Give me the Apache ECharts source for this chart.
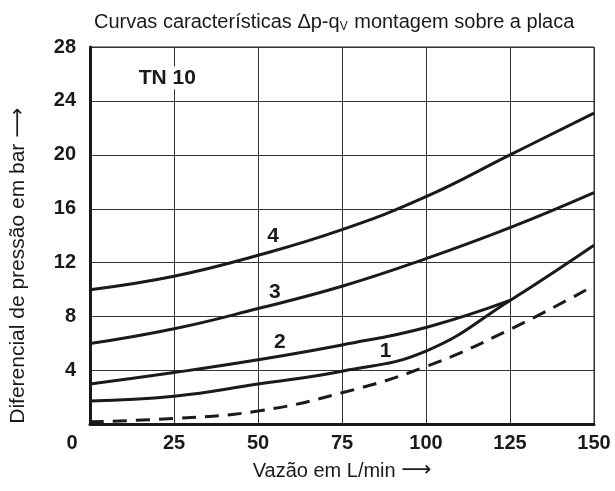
<!DOCTYPE html>
<html>
<head>
<meta charset="utf-8">
<script src="https://cdn.jsdelivr.net/npm/echarts@6/dist/echarts.min.js"></script>
<style>
html,body{margin:0;padding:0;background:#fff;}
#c{width:615px;height:491px;}
</style>
</head>
<body>
<div id="c"></div>
<script>
// ---- data ----
var xTicks = [0, 25, 50, 75, 100, 125, 150];
var yTicks = [0, 4, 8, 12, 16, 20, 24, 28];
var curve4 = [[0,10],[25,11],[50,12.55],[75,14.45],[100,16.9],[125,20],[150,23.1]];
var curve3 = [[0,6],[25,7.1],[50,8.6],[75,10.25],[100,12.3],[125,14.6],[150,17.2]];
var curve2 = [[0,3],[25,3.85],[50,4.8],[75,5.9],[100,7.2],[125,9.2]];
var curve1 = [[0,1.75],[25,2.1],[50,3.0],[75,3.95],[100,5.45],[125,9.2],[150,13.3]];
var curveDashed = [[0,0.2],[25,0.45],[50,1.0],[75,2.35],[100,4.3],[125,7.05],[150,10.3]];
var curveLabels = [
  {text:'4', x:54.5, y:14.0},
  {text:'3', x:55, y:9.8},
  {text:'2', x:56.5, y:6.1},
  {text:'1', x:88, y:5.4}
];
var boxLabel = {text:'TN 10', x:23, y:25.7};
var titleText = 'Curvas características Δp-q{sub|V} montagem sobre a placa';
var xName = 'Vazão em L/min {a|⟶}';
var yName = 'Diferencial de pressão em bar {a|⟶}';

var FONT = '"Liberation Sans", sans-serif';
var INK = '#1a1a1a';

var chart = echarts.init(document.getElementById('c'), null, {renderer:'canvas'});

function lineSeries(data, dashed) {
  return {
    type:'line', data:data, smooth:0.45, showSymbol:false, symbol:'none',
    lineStyle:{color:INK, width:3, type: dashed ? [14,9] : 'solid', cap:'butt'},
    z:5, silent:true, animation:false
  };
}

var labelStyle = {show:true, position:'inside', formatter:'{b}', color:INK, fontFamily:FONT,
  fontWeight:'bold', fontSize:21, textBorderWidth:0, opacity:1};

var series = [
  lineSeries(curve4), lineSeries(curve3), lineSeries(curve2), lineSeries(curve1), lineSeries(curveDashed, true),
  {
    type:'scatter', symbolSize:0, silent:true, animation:false, z:6,
    itemStyle:{color:INK, opacity:1},
    data: curveLabels.map(function(l){ return {value:[l.x,l.y], name:l.text}; }),
    label:labelStyle
  },
  {
    type:'scatter', symbolSize:0, silent:true, animation:false, z:6,
    itemStyle:{color:INK, opacity:1},
    data:[{value:[boxLabel.x, boxLabel.y], name:boxLabel.text}],
    label:Object.assign({}, labelStyle, {backgroundColor:'#fff', padding:[1,3]})
  }
];

var arrowRich = {a:{fontFamily:'"DejaVu Sans", sans-serif', fontSize:21, color:INK}};

chart.setOption({
  animation:false,
  backgroundColor:'#fff',
  title:{
    text:titleText, left:89, top:7,
    textStyle:{fontFamily:FONT, fontWeight:'normal', fontSize:20, color:INK,
      rich:{sub:{fontFamily:FONT, fontSize:12, color:INK, verticalAlign:'bottom', padding:[9,1,0,0]}}}
  },
  grid:{left:88, right:21, top:47, bottom:66.5, show:true, borderColor:'#222', borderWidth:1},
  xAxis:{
    type:'value', min:0, max:150, interval:25,
    name:xName, nameLocation:'middle', nameGap:36,
    nameTextStyle:{fontFamily:FONT, fontSize:20, color:INK, padding:[0,0,0,0], rich:arrowRich},
    axisLine:{show:true, lineStyle:{color:INK, width:3}},
    axisTick:{show:false},
    splitLine:{show:true, lineStyle:{color:'#333', width:1}},
    axisLabel:{
      margin:9, fontFamily:FONT, fontWeight:'bold', fontSize:20, color:INK,
      formatter:function(v){ return v === 0 ? '{z|0}' : String(v); },
      rich:{z:{fontFamily:FONT, fontWeight:'bold', fontSize:20, color:INK, padding:[0,36,0,0]}}
    }
  },
  yAxis:{
    type:'value', min:0, max:28, interval:4,
    name:yName, nameLocation:'middle', nameGap:61,
    nameTextStyle:{fontFamily:FONT, fontSize:21, color:INK, padding:[0,0,0,-60], rich:arrowRich},
    axisLine:{show:true, lineStyle:{color:INK, width:3}},
    axisTick:{show:false},
    splitLine:{show:true, lineStyle:{color:'#333', width:1}},
    axisLabel:{
      margin:14, fontFamily:FONT, fontWeight:'bold', fontSize:20, color:INK,
      formatter:function(v){ return v === 0 ? '' : String(v); }
    }
  },
  series:series
});
</script>
</body>
</html>
